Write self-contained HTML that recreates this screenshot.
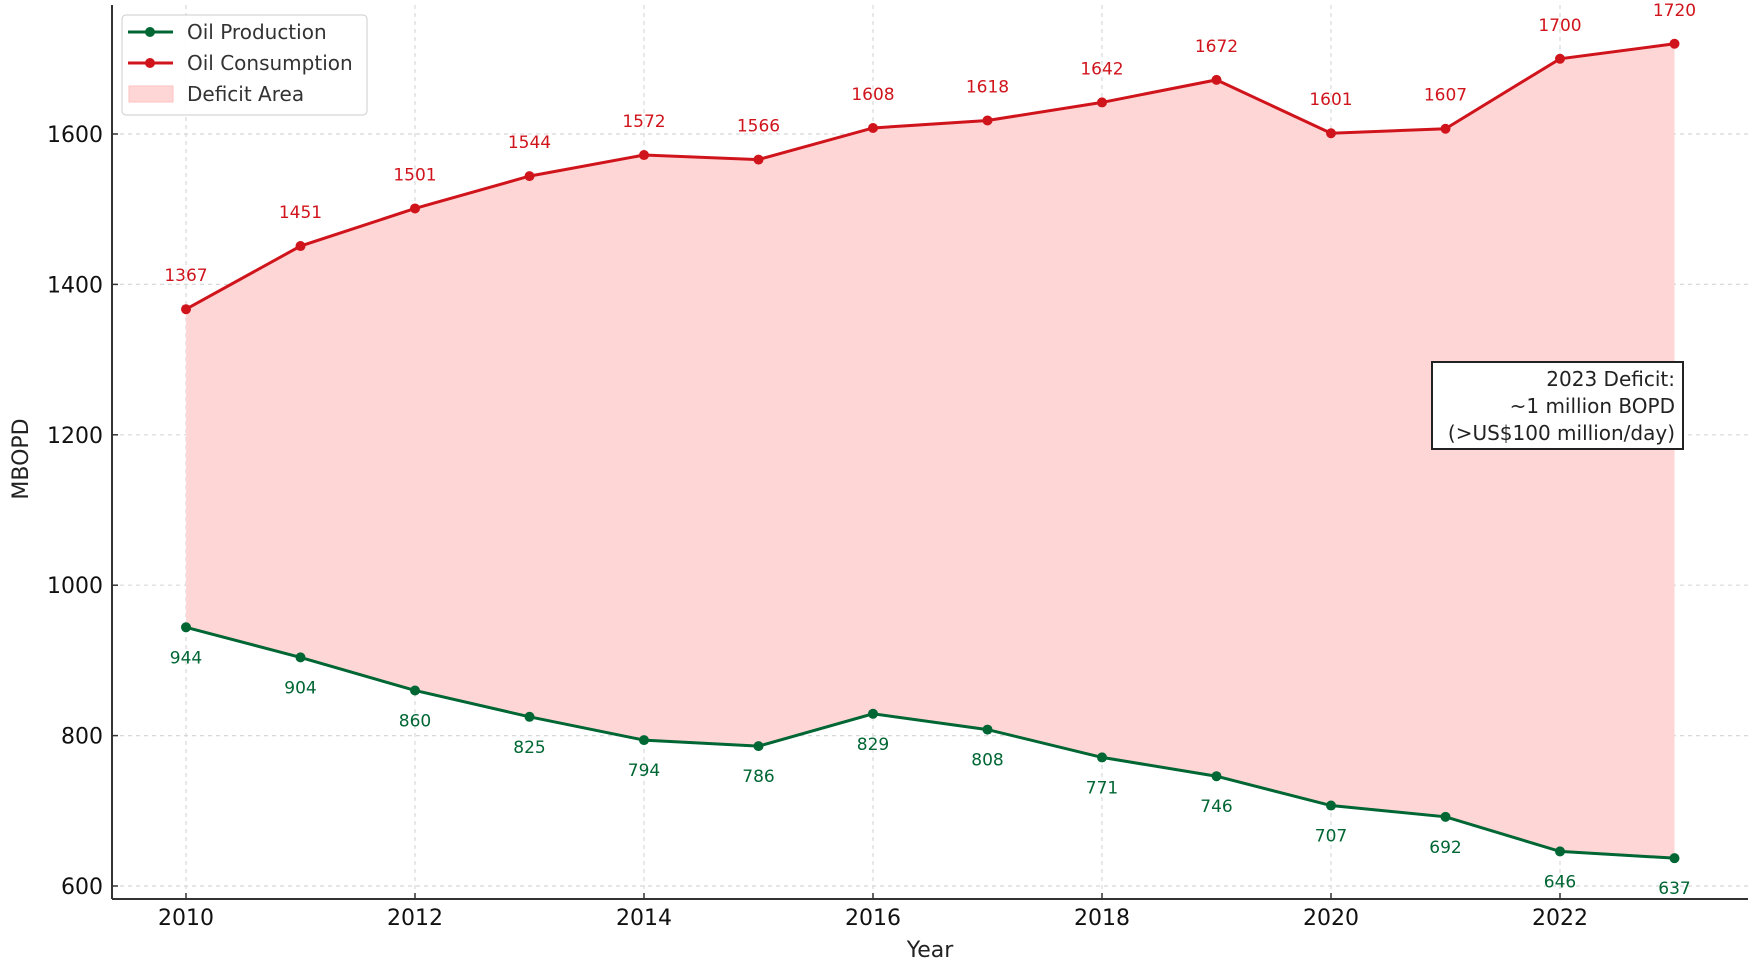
<!DOCTYPE html>
<html><head><meta charset="utf-8"><style>
html,body{margin:0;padding:0;background:#fff;}
svg{display:block;font-family:"DejaVu Sans","Liberation Sans",sans-serif;}
</style></head><body>
<svg id="c" width="1755" height="965" xmlns="http://www.w3.org/2000/svg"></svg>
<script>
const years=[2010,2011,2012,2013,2014,2015,2016,2017,2018,2019,2020,2021,2022,2023];
const prod=[944,904,860,825,794,786,829,808,771,746,707,692,646,637];
const cons=[1367,1451,1501,1544,1572,1566,1608,1618,1642,1672,1601,1607,1700,1720];
const X=y=>186+(y-2010)*114.5, Y=v=>886-(v-600)*0.752;
let s='';
// grid
for(let y=2010;y<=2022;y+=2) s+=`<line x1="${X(y)}" y1="5" x2="${X(y)}" y2="899" stroke="#d8d8d8" stroke-dasharray="4,4" stroke-width="1.2"/>`;
for(let v=600;v<=1600;v+=200) s+=`<line x1="112" y1="${Y(v)}" x2="1748" y2="${Y(v)}" stroke="#d8d8d8" stroke-dasharray="4,4" stroke-width="1.2"/>`;
// fill
let pts=years.map((y,i)=>`${X(y)},${Y(cons[i])}`).join(' ')+' '+years.slice().reverse().map((y,i)=>`${X(y)},${Y(prod[13-i])}`).join(' ');
s+=`<polygon points="${pts}" fill="#ffd6d6"/>`;
// lines
s+=`<polyline points="${years.map((y,i)=>X(y)+','+Y(cons[i])).join(' ')}" fill="none" stroke="#d0141c" stroke-width="3"/>`;
s+=`<polyline points="${years.map((y,i)=>X(y)+','+Y(prod[i])).join(' ')}" fill="none" stroke="#006633" stroke-width="3"/>`;
years.forEach((y,i)=>{
 s+=`<circle cx="${X(y)}" cy="${Y(cons[i])}" r="5" fill="#d0141c"/>`;
 s+=`<circle cx="${X(y)}" cy="${Y(prod[i])}" r="5" fill="#006633"/>`;
 s+=`<text x="${X(y)}" y="${Y(cons[i])-28}" font-size="17" fill="#d0141c" text-anchor="middle">${cons[i]}</text>`;
 s+=`<text x="${X(y)}" y="${Y(prod[i])+36}" font-size="17" fill="#006633" text-anchor="middle">${prod[i]}</text>`;
});
// axes
s+=`<line x1="112" y1="5" x2="112" y2="899" stroke="#333" stroke-width="2"/>`;
s+=`<line x1="112" y1="899" x2="1748" y2="899" stroke="#333" stroke-width="2"/>`;
for(let y=2010;y<=2022;y+=2){s+=`<line x1="${X(y)}" y1="899" x2="${X(y)}" y2="893" stroke="#333" stroke-width="1.5"/><text x="${X(y)}" y="925" font-size="22" text-anchor="middle" fill="#111">${y}</text>`;}
for(let v=600;v<=1600;v+=200){s+=`<line x1="112" y1="${Y(v)}" x2="118" y2="${Y(v)}" stroke="#333" stroke-width="1.5"/><text x="103" y="${Y(v)+8}" font-size="22" text-anchor="end" fill="#111">${v}</text>`;}
s+=`<text x="930" y="957" font-size="22" text-anchor="middle" fill="#222">Year</text>`;
s+=`<text transform="translate(28,459) rotate(-90)" font-size="22" text-anchor="middle" fill="#222">MBOPD</text>`;
// legend
s+=`<rect x="122" y="15" width="245" height="100" rx="4" fill="#fff" fill-opacity="0.9" stroke="#ccc"/>`;
s+=`<line x1="128" y1="32" x2="173" y2="32" stroke="#006633" stroke-width="3"/><circle cx="150" cy="32" r="5" fill="#006633"/><text x="187" y="39" font-size="20" fill="#333">Oil Production</text>`;
s+=`<line x1="128" y1="63" x2="173" y2="63" stroke="#d0141c" stroke-width="3"/><circle cx="150" cy="63" r="5" fill="#d0141c"/><text x="187" y="70" font-size="20" fill="#333">Oil Consumption</text>`;
s+=`<rect x="129" y="86" width="44" height="16" fill="#ffd6d6" stroke="#ffc0c0"/><text x="187" y="101" font-size="20" fill="#333">Deficit Area</text>`;
// annotation
s+=`<rect x="1432" y="362" width="251" height="87" fill="#fff" stroke="#222" stroke-width="2"/>`;
s+=`<text font-size="20" fill="#222" text-anchor="end"><tspan x="1675" y="386">2023 Deficit:</tspan><tspan x="1675" y="413">~1 million BOPD</tspan><tspan x="1675" y="440">(&gt;US$100 million/day)</tspan></text>`;
document.getElementById('c').innerHTML=s;
</script>
</body></html>
